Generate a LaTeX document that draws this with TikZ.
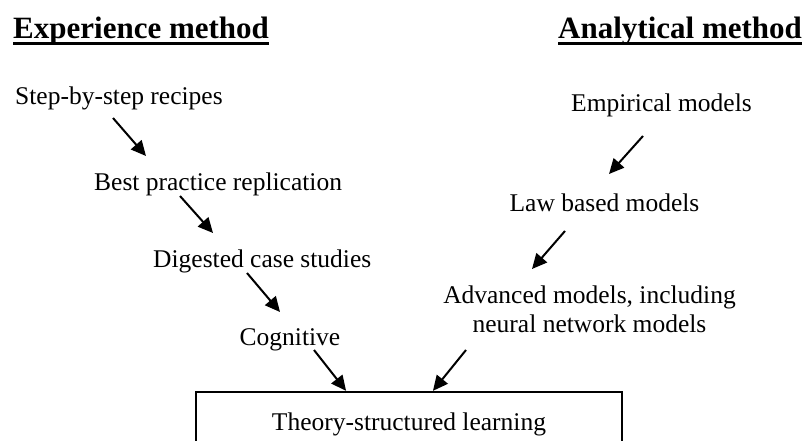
\documentclass[tikz,border=0pt]{standalone}
\usepackage{fontspec}
\setmainfont{Liberation Serif}
\usetikzlibrary{arrows.meta}

\tikzset{
  heading/.style={anchor=base west, inner sep=0pt, font=\fontsize{31}{36}\selectfont\bfseries},
  stage/.style={anchor=base, inner sep=0pt, font=\fontsize{25.5}{29}\selectfont},
  flow/.style={-{Triangle[length=15pt,width=14pt]}, line width=2pt},
}

\begin{document}
\begin{tikzpicture}[x=1pt,y=-1pt]

\path[use as bounding box, clip] (0,0) rectangle (803,441);

% headings
\node [heading] (Hexp) at (13,38.5) {Experience method};
\node [heading] (Hana) at (558,38.5) {Analytical method};
\draw [line width=3.5pt] ([yshift=-5pt]Hexp.base west) -- ([yshift=-5pt]Hexp.base east);
\draw [line width=3.5pt] ([yshift=-5pt]Hana.base west) -- ([yshift=-5pt]Hana.base east);

% experience side
\node [stage, anchor=base west] (recipes) at (15,105) {Step-by-step recipes};
\node [stage, anchor=base west] (practice) at (94,190) {Best practice replication};
\node [stage, anchor=base west] (digested) at (153,267) {Digested case studies};
\node [stage] (cognitive) at (290,345) {Cognitive};

% analytical side
\node [stage, anchor=base west] (empirical) at (571,112) {Empirical models};
\node [stage] (lawbased) at (604.5,211) {Law based models};
\node [stage, align=center] (advanced) at (589.5,332) {Advanced models, including\\neural network models};

\node [draw, line width=1.8pt, anchor=north, outer sep=0pt, inner sep=0pt,
       minimum width=426pt, minimum height=64pt, text height=17pt, text depth=5pt,
       font=\fontsize{25.5}{29}\selectfont] (learning) at (409,392) {Theory-structured learning};

\coordinate (E1) at (113,118);
\coordinate (E2) at (180,196);
\coordinate (E3) at (247,273);
\coordinate (E4) at (314,350);
\coordinate (A1) at (643,136);
\coordinate (A2) at (565,231);
\coordinate (A3) at (466,350);

\coordinate (E1t) at (146,156);
\coordinate (E2t) at (213,233);
\coordinate (E3t) at (280,312);
\coordinate (E4t) at (347,389);
\coordinate (A1t) at (609,174);
\coordinate (A2t) at (532,269);
\coordinate (A3t) at (432,389);

\draw [flow] (E1) -- (E1t);
\draw [flow] (E2) -- (E2t);
\draw [flow] (E3) -- (E3t);
\draw [flow, shorten >=1.5pt] (E4) -- (E4t |- learning.north);
\draw [flow] (A1) -- (A1t);
\draw [flow] (A2) -- (A2t);
\draw [flow, shorten >=1.5pt] (A3) -- (A3t |- learning.north);

\end{tikzpicture}
\end{document}
